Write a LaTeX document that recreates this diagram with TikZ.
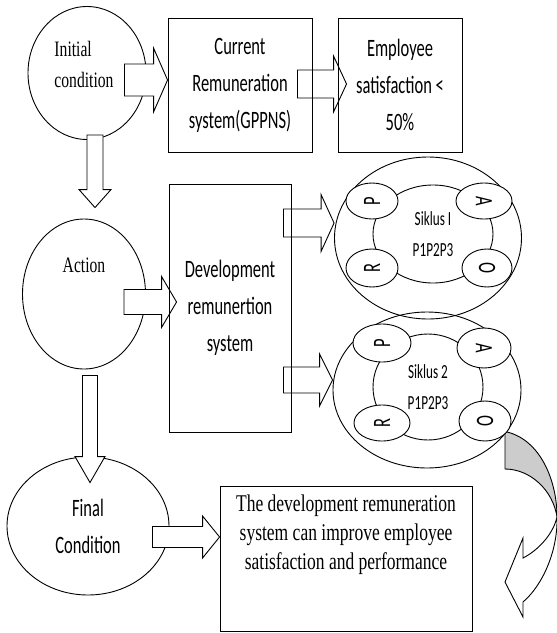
\documentclass[tikz,border=0pt]{standalone}
\usepackage{fontspec}
\usetikzlibrary{shapes.geometric,calc}
\newfontfamily\timesnar[FakeStretch=0.71]{Liberation Serif}
\newfontfamily\timesres[FakeStretch=0.73]{Liberation Serif}
\newfontfamily\calnar[FakeStretch=0.66]{Carlito}
\pgfdeclarelayer{fore}
\pgfsetlayers{main,fore}

\tikzset{
  outline/.style={line width=0.9pt},
  condoval/.style={outline, draw, ellipse, fill=white, inner sep=0pt},
  stepbox/.style={outline, draw, rectangle, inner sep=0pt, align=center},
  blockline/.style={outline, draw, fill=white, line join=miter},
  serif/.style={font=\timesnar\fontsize{22}{31}\selectfont},
  restext/.style={font=\timesres\fontsize{24}{29}\selectfont, align=center},
  sans/.style={font=\calnar\fontsize{25}{37}\selectfont},
  siktext/.style={font=\calnar\fontsize{20}{31}\selectfont, align=center},
  letter/.style={condoval, font=\calnar\fontsize{25}{28}\selectfont},
}

% block arrows: tail, tip, shaft half width, head half width, head length
\newcommand{\harrow}[5]{%
  \draw[blockline] ($(#1|-#2)+(0,-#3)$) -- ($(#2)+(-#5,-#3)$) -- ($(#2)+(-#5,-#4)$) -- (#2)
    -- ($(#2)+(-#5,#4)$) -- ($(#2)+(-#5,#3)$) -- ($(#1|-#2)+(0,#3)$) -- cycle;}
\newcommand{\varrow}[5]{%
  \draw[blockline] ($(#1-|#2)+(-#3,0)$) -- ($(#2)+(-#3,-#5)$) -- ($(#2)+(-#4,-#5)$) -- (#2)
    -- ($(#2)+(#4,-#5)$) -- ($(#2)+(#3,-#5)$) -- ($(#1-|#2)+(#3,0)$) -- cycle;}

\begin{document}
\begin{tikzpicture}[x=1pt,y=-1pt]
\useasboundingbox (0,0) rectangle (557,633);

% conditions
\node[condoval, minimum width=118pt, minimum height=133pt] (init) at (87,73) {};
\node[condoval, minimum width=123pt, minimum height=150pt] (action) at (84,294) {};
\node[condoval, sans, align=center, minimum width=162pt, minimum height=138pt] (final) at (88,526) {Final\\Condition};

% siklus
\node[condoval, fill=none, minimum width=187pt, minimum height=162pt] (sik1) at (428,238) {};
\node[condoval, fill=none, minimum width=188pt, minimum height=156pt] (sik2) at (427,390) {};
\node[condoval, fill=none, siktext, minimum width=120pt, minimum height=98pt] (sik1in) at (433,234) {Siklus I\\P1P2P3};
\node[condoval, fill=none, siktext, minimum width=110pt, minimum height=106pt] (sik2in) at (428,387) {Siklus 2\\P1P2P3};

% curved arrow
\draw[outline, fill=black!20] (505,433) -- (507,432) .. controls (540,440) and (557,480) .. (557,517)
  .. controls (553,490) and (530,469) .. (505,469) -- cycle;
\draw[outline, fill=white, line join=miter] (557,517) .. controls (558,550) and (543,585) .. (523,602)
  -- (523,617) -- (505,582) -- (523,538) -- (523,558) .. controls (537,551) and (553,535) .. (557,517);

\begin{pgfonlayer}{fore}
\node[stepbox, sans, minimum width=144pt, minimum height=134pt] (curr) at (240,85) {Current\\Remuneration\\system(GPPNS)};
\node[stepbox, sans, minimum width=124pt, minimum height=134pt] (emp) at (400,85) {Employee\\satisfaction <\\50\%};
\node[stepbox, sans, minimum width=122pt, minimum height=248pt] (dev) at (230,308) {Development\\remunertion\\system};
\node[stepbox, minimum width=252pt, minimum height=145pt] (res) at (346,558.5) {};
\node[restext] (restxt) at (346,535) {The development remuneration\\system can improve employee\\satisfaction and performance};
\node[serif, align=left] (inittxt) at (84,64) {Initial\\condition};
\node[serif] (acttxt) at (84,265) {Action};
\node[letter, minimum width=52pt, minimum height=36pt] (sik1p) at (372,201) {\rotatebox{90}{P}};
\node[letter, minimum width=56pt, minimum height=36pt] (sik1a) at (484,201) {\rotatebox{-90}{A}};
\node[letter, minimum width=52pt, minimum height=38pt] (sik1r) at (372,268) {\rotatebox{90}{R}};
\node[letter, minimum width=50pt, minimum height=38pt] (sik1o) at (487,268) {\rotatebox{90}{O}};
\node[letter, minimum width=58pt, minimum height=38pt] (sik2p) at (382,343) {\rotatebox{90}{P}};
\node[letter, minimum width=54pt, minimum height=40pt] (sik2a) at (484,348) {\rotatebox{-90}{A}};
\node[letter, minimum width=56pt, minimum height=36pt] (sik2r) at (382,423) {\rotatebox{90}{R}};
\node[letter, minimum width=52pt, minimum height=40pt] (sik2o) at (485,421) {\rotatebox{90}{O}};
\end{pgfonlayer}

% arrow ends
\coordinate (a1s) at ($(init.east)+(-22,0)$);
\coordinate (a1e) at ($(curr.west)+(0,-5)$);
\coordinate (a2s) at ($(curr.east)+(-15,0)$);
\coordinate (a2e) at ($(emp.west)+(9,-1)$);
\coordinate (a3s) at ($(action.east)+(-22,0)$);
\coordinate (a3e) at ($(dev.west)+(8,-6)$);
\coordinate (a4s) at ($(dev.east)+(-8,0)$);
\coordinate (a4e) at ($(sik1.west)+(0,-15)$);
\coordinate (a5s) at ($(dev.east)+(-8,0)$);
\coordinate (a5e) at ($(sik2.west)+(0,-10)$);
\coordinate (a6s) at ($(final.east)+(-17,0)$);
\coordinate (a6e) at ($(res.west)+(0,-21.5)$);
\coordinate (d1s) at ($(init.south)+(0,-5)$);
\coordinate (d1e) at ($(action.north)+(11,-11)$);
\coordinate (d2s) at ($(action.south)+(0,6)$);
\coordinate (d2e) at ($(final.north)+(2,26)$);

\harrow{a1s}{a1e}{16}{32}{14}
\harrow{a2s}{a2e}{14}{28}{13}
\harrow{a3s}{a3e}{12.5}{25.5}{15}
\harrow{a4s}{a4e}{14}{28.5}{13}
\harrow{a5s}{a5e}{13}{26}{13}
\harrow{a6s}{a6e}{10.5}{21}{17}
\varrow{d1s}{d1e}{8}{16}{18}
\varrow{d2s}{d2e}{7.5}{15}{26}
\end{tikzpicture}
\end{document}
